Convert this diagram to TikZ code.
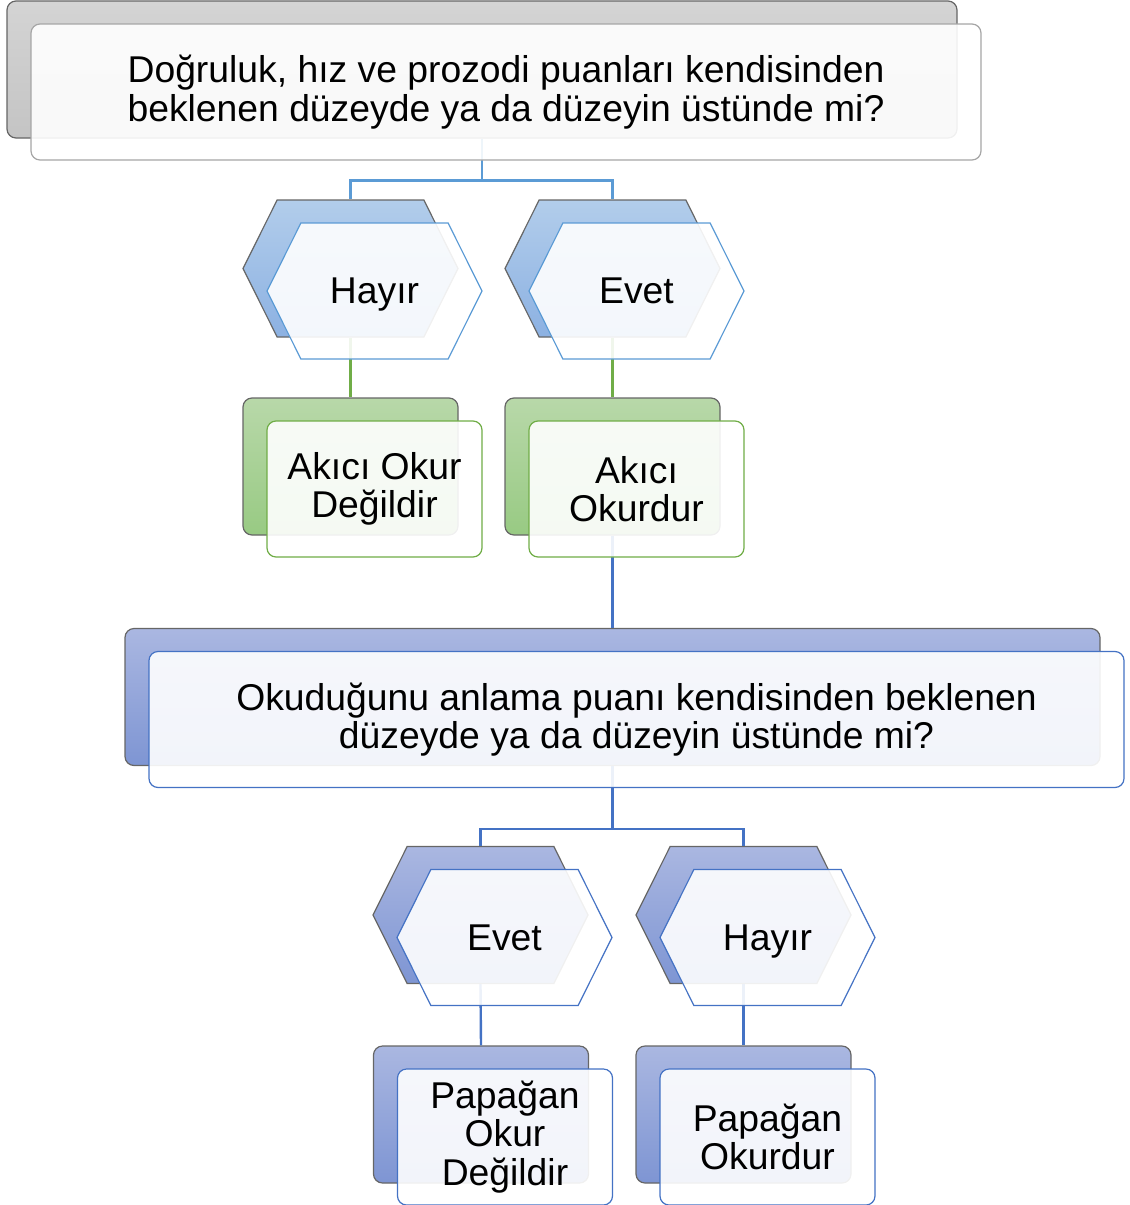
\documentclass[tikz,border=0pt]{standalone}
\usepackage{fontspec}
\setmainfont{Liberation Sans}
\usetikzlibrary{positioning, shapes.symbols}
\definecolor{GrayTop}{HTML}{D4D4D4}
\definecolor{GrayBot}{HTML}{C4C4C4}
\definecolor{GrayLine}{HTML}{A6A6A6}
\definecolor{SkyTop}{HTML}{B2CDEB}
\definecolor{SkyBot}{HTML}{8CB1E2}
\definecolor{SkyLine}{HTML}{5B9BD5}
\definecolor{LeafTop}{HTML}{B8D8A9}
\definecolor{LeafBot}{HTML}{98CA83}
\definecolor{LeafLine}{HTML}{70AD47}
\definecolor{InkTop}{HTML}{AAB7E1}
\definecolor{InkBot}{HTML}{7E95D3}
\definecolor{InkLine}{HTML}{4472C4}
\definecolor{BackLine}{HTML}{666666}
\tikzset{
  backbox/.style={rectangle, rounded corners=9pt, draw=BackLine, line width=1.2pt,
                  top color=#1Top, bottom color=#1Bot,
                  minimum width=215pt, minimum height=137pt, inner sep=0pt},
  frontbox/.style={rectangle, rounded corners=9pt, draw=#1Line, line width=1.2pt,
                   fill=white, fill opacity=0.9, text opacity=1,
                   minimum width=215pt, minimum height=136pt, inner sep=0pt,
                   font=\fontsize{37.3}{38.6}\selectfont, align=center},
  backhex/.style={signal, signal to=west and east, signal pointer angle=127,
                  draw=BackLine, line width=1.2pt, top color=#1Top, bottom color=#1Bot,
                  minimum width=215pt, minimum height=137pt, inner sep=0pt},
  fronthex/.style={signal, signal to=west and east, signal pointer angle=127,
                   draw=#1Line, line width=1.2pt, fill=white, fill opacity=0.9,
                   text opacity=1, minimum width=215pt, minimum height=136pt,
                   inner sep=0pt, text depth=0pt, font=\fontsize{37.3}{38.6}\selectfont},
  link/.style={line width=2.4pt, color=#1},
  front/.style={at={([shift={(24,22.5)}]#1.center)}},
}

\begin{document}
\begin{tikzpicture}[x=1pt, y=-1pt]
  \useasboundingbox (0,0) rectangle (1130,1205);

  %% BACK SHAPES
  \node[backbox=Gray, minimum width=950pt] (q1b) at (482,69.5) {};
  \node[backhex=Sky] (no1b)  at (350.5,268.5) {};
  \node[backhex=Sky] (yes1b) at (612.5,268.5) {};
  \node[backbox=Leaf] (notflb) at (350.5,466.5) {};
  \node[backbox=Leaf] (flb)    at (612.5,466.5) {};
  \node[backbox=Ink, minimum width=975pt] (q2b) at (612.5,697) {};
  \node[backhex=Ink] (yes2b) at (480.5,915) {};
  \node[backhex=Ink] (no2b)  at (743.5,915) {};
  \node[backbox=Ink] (notprb) at (481,1114.5) {};
  \node[backbox=Ink] (prb)    at (743.5,1114.5) {};

  %% CONNECTORS
  \coordinate[below=42pt of q1b.south] (j1);
  \coordinate[below=63pt of q2b.south] (j2);
  \draw[link=SkyLine] (q1b.south) -- (j1) -| (no1b.north);
  \draw[link=SkyLine] (j1) -| (yes1b.north);
  \draw[link=LeafLine] (no1b.south) -- (notflb.north);
  \draw[link=LeafLine] (yes1b.south) -- (flb.north);
  \draw[link=InkLine] (flb.south) -- (q2b.north);
  \draw[link=InkLine] (q2b.south) -- (j2) -| (yes2b.north);
  \draw[link=InkLine] (j2) -| (no2b.north);
  \draw[link=InkLine] (yes2b.south) -- (notprb.north);
  \draw[link=InkLine] (no2b.south) -- (prb.north);

  %% FRONT SHAPES
  \node[frontbox=Gray, minimum width=950pt, front=q1b] (q1)
       {Doğruluk, hız ve prozodi puanları kendisinden\\beklenen düzeyde ya da düzeyin üstünde mi?};
  \node[fronthex=Sky, front=no1b] (no1) {Hayır};
  \node[fronthex=Sky, front=yes1b] (yes1) {Evet};
  \node[frontbox=Leaf, front=notflb] (notfl) {Akıcı Okur\\Değildir};
  \node[frontbox=Leaf, front=flb] (fl) {Akıcı\\Okurdur};
  \node[frontbox=Ink, minimum width=975pt, front=q2b] (q2)
       {Okuduğunu anlama puanı kendisinden beklenen\\düzeyde ya da düzeyin üstünde mi?};
  \node[fronthex=Ink, front=yes2b] (yes2) {Evet};
  \node[fronthex=Ink, front=no2b] (no2) {Hayır};
  \node[frontbox=Ink, front=notprb] (notpr) {Papağan\\Okur\\Değildir};
  \node[frontbox=Ink, front=prb] (pr) {Papağan\\Okurdur};

\end{tikzpicture}
\end{document}
